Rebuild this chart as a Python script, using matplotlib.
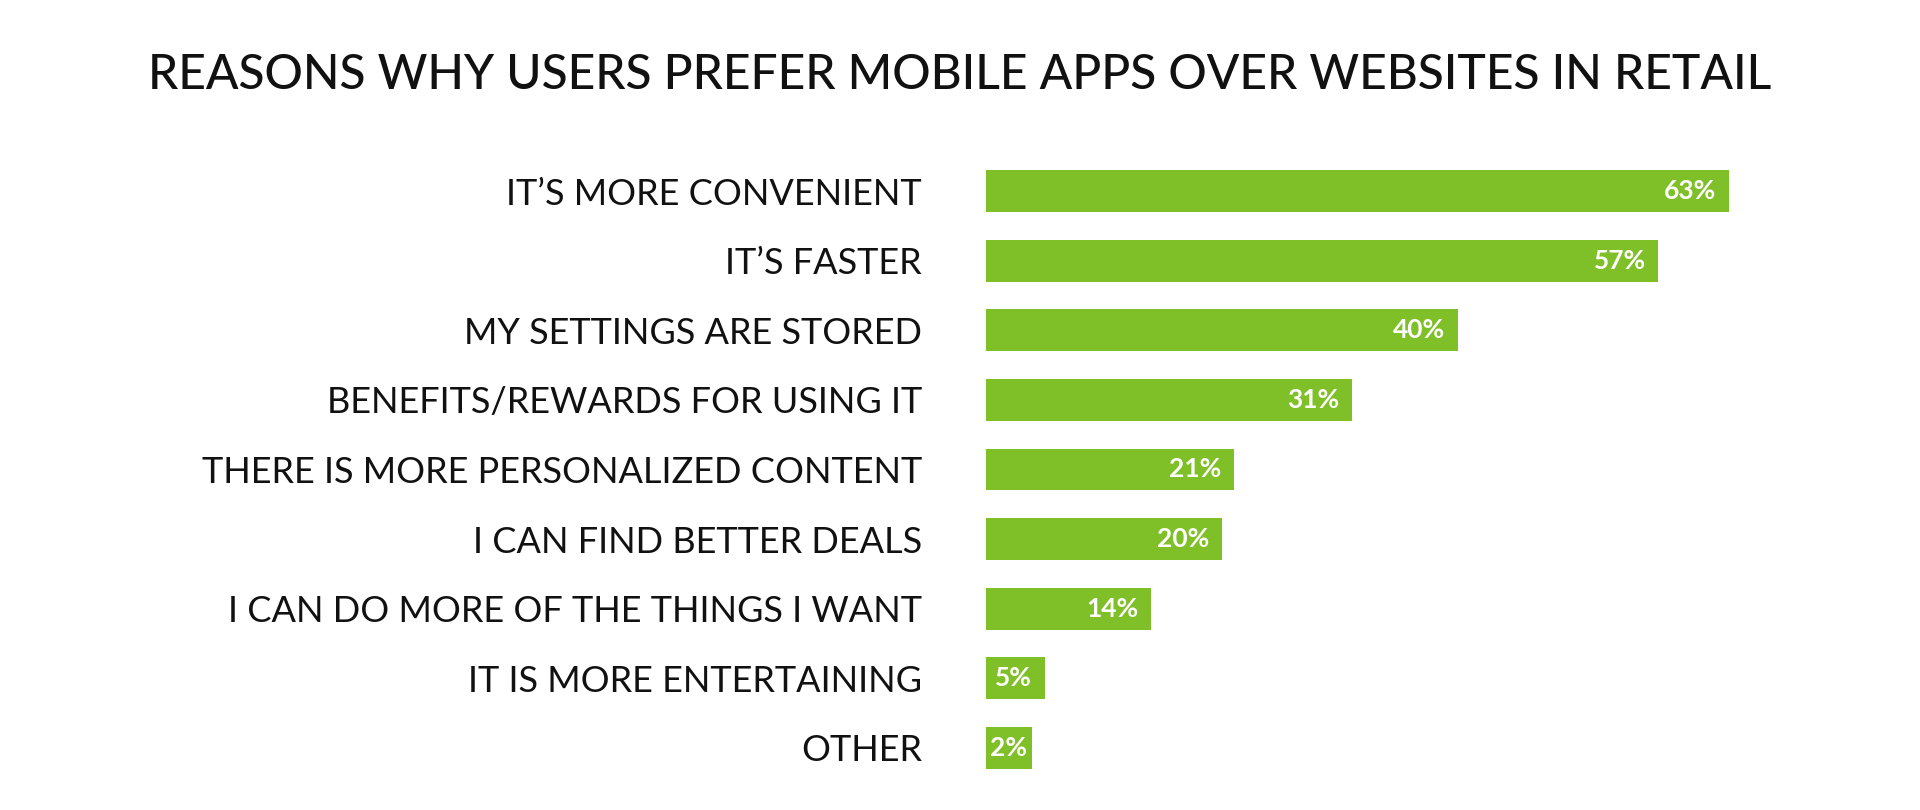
import numpy as np
import matplotlib
matplotlib.use("Agg")
import matplotlib.pyplot as plt

# Datos de la encuesta
razones = [
    "IT\u2019S MORE CONVENIENT",
    "IT\u2019S FASTER",
    "MY SETTINGS ARE STORED",
    "BENEFITS/REWARDS FOR USING IT",
    "THERE IS MORE PERSONALIZED CONTENT",
    "I CAN FIND BETTER DEALS",
    "I CAN DO MORE OF THE THINGS I WANT",
    "IT IS MORE ENTERTAINING",
    "OTHER",
]
porcentajes = [63, 57, 40, 31, 21, 20, 14, 5, 2]

titulo = "REASONS WHY USERS PREFER MOBILE APPS OVER WEBSITES IN RETAIL"

verde = "#7fbf27"
negro = "#111111"
plt.rcParams["font.family"] = ["Lato", "DejaVu Sans"]

# largo minimo para que la etiqueta quepa dentro de la barra
largo_min = 3.9
largos = np.maximum(np.array(porcentajes, dtype=float), largo_min)

fig = plt.figure(figsize=(19.2, 8.1), dpi=100)
ax = fig.add_axes([985.7 / 1920, 27.2 / 810, 826 / 1920, 626.6 / 810])

y = np.arange(len(razones))
ax.barh(y, largos, height=0.6, color=verde, edgecolor="none")

for i, (l, v) in enumerate(zip(largos, porcentajes)):
    if v < largo_min:
        # barra minima: etiqueta centrada
        ax.text(l / 2, i, f"{v}%", ha="center", va="center", color="white",
                fontsize=19, fontweight="bold")
    else:
        ax.annotate(f"{v}%", xy=(l, i), xytext=(-9, 0), textcoords="offset points",
                    ha="right", va="center", color="white", fontsize=19,
                    fontweight="bold")

ax.set_xlim(0, 70)
ax.set_ylim(len(razones) - 0.5, -0.5)
ax.set_yticks(y)
ax.set_yticklabels(razones, fontsize=26, color=negro)
ax.tick_params(axis="y", length=0, pad=46)
ax.set_xticks([])
for s in ax.spines.values():
    s.set_visible(False)

fig.text(0.5, 1 - 75 / 810, titulo, ha="center", va="center",
         fontsize=34.5, color=negro, fontweight="medium")

fig.savefig("out.png", dpi=100, facecolor="white")
